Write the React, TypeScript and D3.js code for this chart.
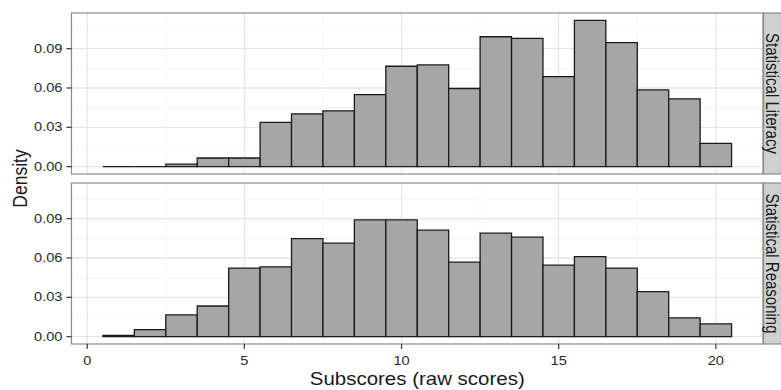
import React, { useRef, useEffect } from "react";
import * as d3 from "d3";

// bin centres (raw score), width 1
const bins = [1, 2, 3, 4, 5, 6, 7, 8, 9, 10, 11, 12, 13, 14, 15, 16, 17, 18, 19, 20];
const literacy = [
  0, 0, 0.002, 0.0066, 0.0066, 0.0337, 0.0403, 0.0426, 0.055, 0.0766,
  0.0776, 0.0596, 0.0991, 0.0979, 0.0687, 0.1116, 0.0946, 0.0586, 0.0517, 0.0177,
];
const reasoning = [
  0.001, 0.0053, 0.0166, 0.0234, 0.0523, 0.0533, 0.0747, 0.0714, 0.089, 0.089,
  0.0812, 0.0568, 0.0789, 0.0759, 0.0545, 0.0611, 0.0523, 0.0344, 0.0143, 0.0098,
];
const panelNames = ["Statistical Literacy", "Statistical Reasoning"];
const xTicks = [0, 5, 10, 15, 20];
const xMinor = [2.5, 7.5, 12.5, 17.5];
const yTicks = [0, 0.03, 0.06, 0.09];
const yMinor = [0.015, 0.045, 0.075, 0.105];

const W = 781;
const H = 390;
const SX = 1.17; // text in the picture is a bit wide

const App = () => {
  const svgRef = useRef<SVGSVGElement>(null);

  useEffect(() => {
    const svg = d3.select(svgRef.current);
    svg.selectAll("*").remove();

    const left = 71.5;
    const right = 763;
    const panels = [
      { name: panelNames[0], values: literacy, top: 13, bottom: 174 },
      { name: panelNames[1], values: reasoning, top: 183, bottom: 344 },
    ];
    const font = "'Liberation Sans', Arial, sans-serif";

    const x = d3.scaleLinear().domain([-0.5, 21.5]).range([left, right]);

    panels.forEach((p) => {
      const y = d3
        .scaleLinear()
        .domain([-0.0056, 0.1172])
        .range([p.bottom, p.top]);
      const g = svg.append("g");

      g.append("rect")
        .attr("x", left)
        .attr("y", p.top)
        .attr("width", right - left)
        .attr("height", p.bottom - p.top)
        .attr("fill", "white");

      // minor grid
      g.selectAll(".ymin")
        .data(yMinor)
        .enter()
        .append("line")
        .attr("x1", left)
        .attr("x2", right)
        .attr("y1", (d) => y(d))
        .attr("y2", (d) => y(d))
        .attr("stroke", "#f4f4f4")
        .attr("stroke-width", 1);
      g.selectAll(".xmin")
        .data(xMinor)
        .enter()
        .append("line")
        .attr("x1", (d) => x(d))
        .attr("x2", (d) => x(d))
        .attr("y1", p.top)
        .attr("y2", p.bottom)
        .attr("stroke", "#f4f4f4")
        .attr("stroke-width", 1);
      // major grid
      g.selectAll(".ymaj")
        .data(yTicks)
        .enter()
        .append("line")
        .attr("x1", left)
        .attr("x2", right)
        .attr("y1", (d) => y(d))
        .attr("y2", (d) => y(d))
        .attr("stroke", "#e6e6e6")
        .attr("stroke-width", 1.3);
      g.selectAll(".xmaj")
        .data(xTicks)
        .enter()
        .append("line")
        .attr("x1", (d) => x(d))
        .attr("x2", (d) => x(d))
        .attr("y1", p.top)
        .attr("y2", p.bottom)
        .attr("stroke", "#e6e6e6")
        .attr("stroke-width", 1.3);

      // bars as closed paths, so empty bins still show their outline
      g.selectAll(".bar")
        .data(bins)
        .enter()
        .append("path")
        .attr("d", (d, i) => {
          const path = d3.path();
          const x0 = x(d - 0.5);
          const x1 = x(d + 0.5);
          path.moveTo(x0, y(0));
          path.lineTo(x0, y(p.values[i]));
          path.lineTo(x1, y(p.values[i]));
          path.lineTo(x1, y(0));
          path.closePath();
          return path.toString();
        })
        .attr("fill", "#a6a6a6")
        .attr("stroke", "#1a1a1a")
        .attr("stroke-width", 1.3);

      // panel border
      g.append("rect")
        .attr("x", left)
        .attr("y", p.top)
        .attr("width", right - left)
        .attr("height", p.bottom - p.top)
        .attr("fill", "none")
        .attr("stroke", "#8a8a8a")
        .attr("stroke-width", 1.2);

      // strip
      g.append("rect")
        .attr("x", right + 0.5)
        .attr("y", p.top)
        .attr("width", W - right)
        .attr("height", p.bottom - p.top)
        .attr("fill", "#d0d0d0")
        .attr("stroke", "#8a8a8a")
        .attr("stroke-width", 1.2);
      g.append("text")
        .attr(
          "transform",
          `translate(${right + 9.5},${(p.top + p.bottom) / 2}) scale(${SX},1) rotate(90)`
        )
        .attr("text-anchor", "middle")
        .attr("dominant-baseline", "central")
        .style("font-family", font)
        .style("font-size", "15px")
        .attr("fill", "#1a1a1a")
        .text(p.name);

      // y ticks
      g.selectAll(".ytick")
        .data(yTicks)
        .enter()
        .append("line")
        .attr("x1", left - 5)
        .attr("x2", left)
        .attr("y1", (d) => y(d))
        .attr("y2", (d) => y(d))
        .attr("stroke", "#333")
        .attr("stroke-width", 1.2);
      g.selectAll(".ylab")
        .data(yTicks)
        .enter()
        .append("text")
        .attr("transform", (d) => `translate(${left - 9},${y(d)}) scale(${SX},1)`)
        .attr("text-anchor", "end")
        .attr("dominant-baseline", "central")
        .style("font-family", font)
        .style("font-size", "12.5px")
        .attr("fill", "#2a2a2a")
        .text((d) => d3.format(".2f")(d));
    });

    // x axis (bottom panel only)
    const bottom = panels[1].bottom;
    svg
      .selectAll(".xtick")
      .data(xTicks)
      .enter()
      .append("line")
      .attr("x1", (d) => x(d))
      .attr("x2", (d) => x(d))
      .attr("y1", bottom)
      .attr("y2", bottom + 5)
      .attr("stroke", "#333")
      .attr("stroke-width", 1.2);
    svg
      .selectAll(".xlab")
      .data(xTicks)
      .enter()
      .append("text")
      .attr("transform", (d) => `translate(${x(d)},${bottom + 21}) scale(${SX},1)`)
      .attr("text-anchor", "middle")
      .style("font-family", font)
      .style("font-size", "12.5px")
      .attr("fill", "#2a2a2a")
      .text((d) => d);

    svg
      .append("text")
      .attr("transform", `translate(${(left + right) / 2},${H - 5}) scale(${SX},1)`)
      .attr("text-anchor", "middle")
      .style("font-family", font)
      .style("font-size", "17.5px")
      .attr("fill", "#1a1a1a")
      .text("Subscores (raw scores)");

    svg
      .append("text")
      .attr("transform", `translate(20,${(13 + 344) / 2}) scale(${SX},1) rotate(-90)`)
      .attr("text-anchor", "middle")
      .attr("dominant-baseline", "central")
      .style("font-family", font)
      .style("font-size", "17.5px")
      .attr("fill", "#1a1a1a")
      .text("Density");
  }, []);

  return (
    <svg
      ref={svgRef}
      width={W}
      height={H}
      style={{ position: "absolute", left: 0, top: 0, background: "white" }}
    />
  );
};

export default App;
